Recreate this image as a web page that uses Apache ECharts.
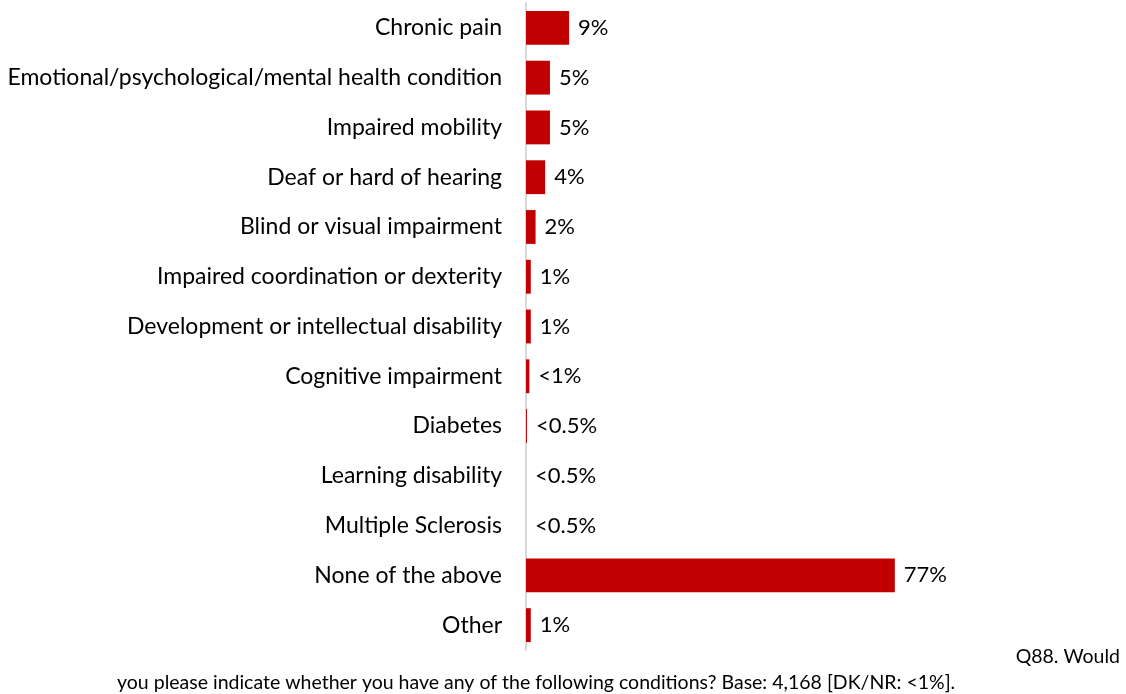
<!DOCTYPE html>
<html>
<head>
<meta charset="utf-8">
<script src="https://cdn.jsdelivr.net/npm/echarts@6/dist/echarts.min.js"></script>
<style>
  html, body { margin: 0; padding: 0; background: #fff; }
  #chart { width: 1126px; height: 694px; }
</style>
</head>
<body>
<div id="chart"></div>
<script>
// Conditions reported, share of respondents (%)
const categories = [
  'Chronic pain',
  'Emotional/psychological/mental health condition',
  'Impaired mobility',
  'Deaf or hard of hearing',
  'Blind or visual impairment',
  'Impaired coordination or dexterity',
  'Development or intellectual disability',
  'Cognitive impairment',
  'Diabetes',
  'Learning disability',
  'Multiple Sclerosis',
  'None of the above',
  'Other'
];
const values = [9, 5, 5, 4, 2, 1, 1, 0.7, 0.2, 0, 0, 77, 1];
const valueLabels = ['9%', '5%', '5%', '4%', '2%', '1%', '1%', '<1%', '<0.5%', '<0.5%', '<0.5%', '77%', '1%'];

const FONT = 'Lato';

const chart = echarts.init(document.getElementById('chart'), null, { renderer: 'canvas' });
chart.setOption({
  animation: false,
  backgroundColor: '#ffffff',
  textStyle: { fontFamily: FONT },
  grid: { left: 526, right: 121, top: 3, bottom: 44, containLabel: false },
  xAxis: {
    type: 'value',
    min: 0,
    max: 100,
    show: false
  },
  yAxis: {
    type: 'category',
    inverse: true,
    data: categories,
    axisLine: { show: true, lineStyle: { color: '#d9d9d9', width: 2 } },
    axisTick: { show: false },
    axisLabel: { color: '#000', fontSize: 23, fontFamily: FONT, margin: 24 }
  },
  series: [{
    type: 'bar',
    data: values,
    barCategoryGap: '32%',
    itemStyle: { color: '#C00000' },
    label: {
      show: true,
      position: 'right',
      distance: 9,
      color: '#000',
      fontSize: 22,
      fontFamily: FONT,
      formatter: p => valueLabels[p.dataIndex]
    }
  }],
  graphic: [
    {
      type: 'text', right: 6, top: 647,
      style: { text: 'Q88. Would', fill: '#000', font: '19.5px ' + FONT }
    },
    {
      type: 'text', left: 117, top: 673,
      style: { text: 'you please indicate whether you have any of the following conditions? Base: 4,168 [DK/NR: <1%].', fill: '#000', font: '19.5px ' + FONT }
    }
  ]
});
</script>
</body>
</html>
